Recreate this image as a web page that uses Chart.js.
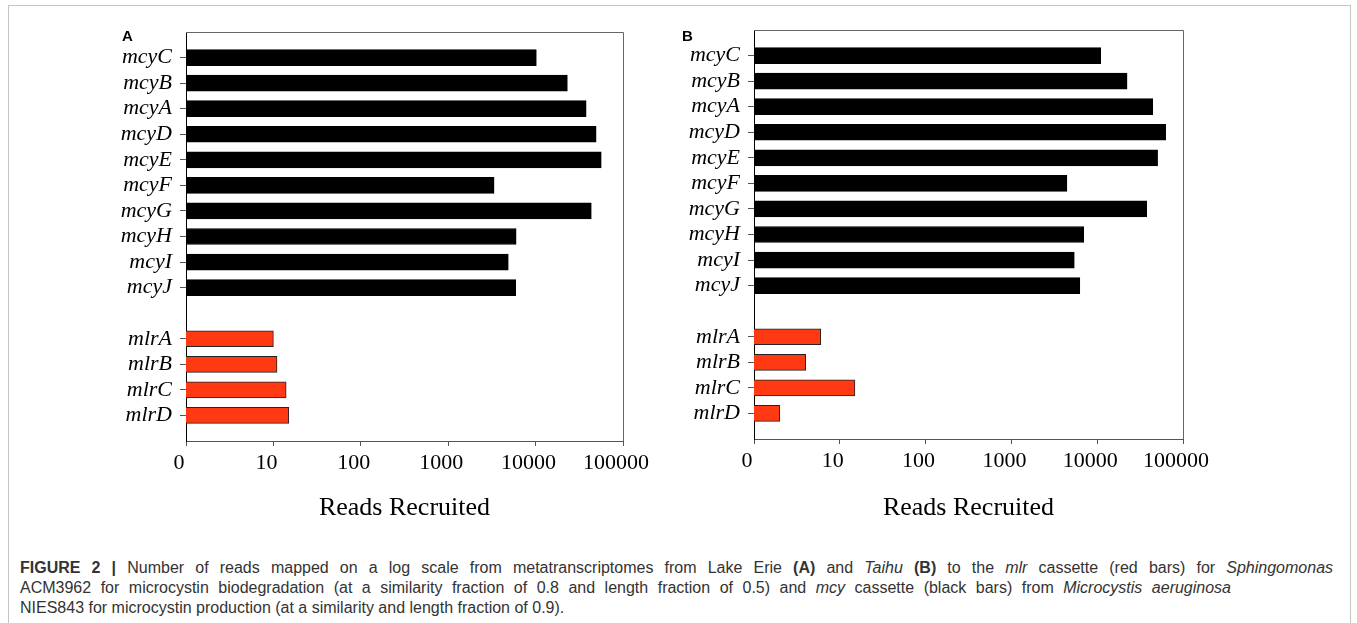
<!DOCTYPE html>
<html>
<head>
<meta charset="utf-8">
<script src="https://cdn.jsdelivr.net/npm/chart.js@4.4.0/dist/chart.umd.min.js"></script>
<style>
  body { margin: 0; background: #fff; width: 1357px; height: 623px; position: relative; overflow: hidden; }
  #frame { position: absolute; left: 8px; top: 5px; width: 1341px; height: 640px; border: 1px solid #c4c4c4; border-bottom: none; }
  .panel { position: absolute; top: 0; height: 540px; }
  .tag { position: absolute; font: bold 15px "Liberation Sans", Arial, sans-serif; line-height: 16px; }
  #caption { position: absolute; left: 20px; top: 558px; font: 16px/20px "Liberation Sans", Arial, sans-serif; color: #333; white-space: nowrap; }
  #caption .ln { text-align: justify; text-align-last: justify; }
</style>
</head>
<body>
<div id="frame"></div>
<div class="panel" style="left:0;width:660px"><canvas id="chartA"></canvas></div>
<div class="panel" style="left:660px;width:560px"><canvas id="chartB"></canvas></div>
<div class="tag" style="left:122px;top:28px">A</div>
<div class="tag" style="left:682px;top:28px">B</div>
<div id="caption">
<div class="ln" style="width:1313px"><b>FIGURE 2 |</b> Number of reads mapped on a log scale from metatranscriptomes from Lake Erie <b>(A)</b> and <i>Taihu</i> <b>(B)</b> to the <i>mlr</i> cassette (red bars) for <i>Sphingomonas</i></div>
<div class="ln" style="width:1211px">ACM3962 for microcystin biodegradation (at a similarity fraction of 0.8 and length fraction of 0.5) and <i>mcy</i> cassette (black bars) from <i>Microcystis aeruginosa</i></div>
<div>NIES843 for microcystin production (at a similarity and length fraction of 0.9).</div>
</div>
<script>
const genes = ['mcyC', 'mcyB', 'mcyA', 'mcyD', 'mcyE', 'mcyF', 'mcyG', 'mcyH', 'mcyI', 'mcyJ', 'mlrA', 'mlrB', 'mlrC', 'mlrD'];
const erieReads = [10200, 23100, 37900, 49300, 56400, 3350, 43400, 5990, 4870, 5930, 10, 11, 14, 15];
const taihuReads = [11000, 22300, 44400, 62800, 50600, 4440, 37800, 6970, 5410, 6280, 6, 4, 15, 2];
const tickValues = [1, 10, 100, 1000, 10000, 100000];
const tickLabels = ['0', '10', '100', '1000', '10000', '100000'];

// empty rows: top padding, gap between the two cassettes, bottom padding
const rows = ['', ...genes.slice(0, 10), '', ...genes.slice(10), ''];

// top and right edge of the plot box
const plotFrame = {
  id: 'plotFrame',
  afterDraw(chart) {
    const { ctx, chartArea: a } = chart;
    ctx.save();
    ctx.strokeStyle = '#666';
    ctx.lineWidth = 1;
    ctx.beginPath();
    ctx.moveTo(a.left, a.top + 0.5);
    ctx.lineTo(a.right + 0.5, a.top + 0.5);
    ctx.lineTo(a.right + 0.5, a.bottom);
    ctx.stroke();
    ctx.restore();
  }
};

function makeChart(id, reads, yWidth, xHeight, padTop, padRight) {
  const values = rows.map(r => r === '' ? null : reads[genes.indexOf(r)]);
  const colors = rows.map(r => r.startsWith('mlr') ? '#ff3a12' : '#000');

  return new Chart(document.getElementById(id), {
    type: 'bar',
    data: {
      labels: rows,
      datasets: [{
        data: values,
        backgroundColor: colors,
        borderColor: rows.map(r => r.startsWith('mlr') ? '#222' : '#000'),
        borderWidth: 1,
        barThickness: 16
      }]
    },
    options: {
      indexAxis: 'y',
      responsive: true,
      maintainAspectRatio: false,
      animation: false,
      layout: { padding: { top: padTop, right: padRight, left: 0, bottom: 0 } },
      plugins: { legend: { display: false }, tooltip: { enabled: false } },
      scales: {
        x: {
          type: 'logarithmic',
          min: 1,
          max: 100000,
          afterBuildTicks: s => { s.ticks = tickValues.map(v => ({ value: v })); },
          afterFit: s => { s.height = xHeight; },
          ticks: {
            callback: (v, i) => tickLabels[i],
            font: { family: 'Liberation Serif', size: 22 },
            color: '#000',
            padding: 4,
            maxRotation: 0,
            autoSkip: false,
            labelOffset: -7
          },
          grid: { drawOnChartArea: false, tickLength: 5, tickColor: '#555' },
          border: { color: '#555' },
          title: {
            display: true,
            text: 'Reads Recruited',
            font: { family: 'Liberation Serif', size: 26 },
            color: '#000',
            padding: { top: 0, bottom: 16 }
          }
        },
        y: {
          offset: false,
          afterFit: s => { s.width = yWidth; },
          ticks: {
            font: { family: 'Liberation Serif', style: 'italic', size: 22 },
            color: '#000',
            padding: 8,
            autoSkip: false
          },
          grid: {
            offset: false,
            drawOnChartArea: false,
            tickLength: 6,
            tickColor: c => rows[c.index] ? '#555' : 'rgba(0,0,0,0)'
          },
          border: { color: '#000' }
        }
      }
    },
    plugins: [plotFrame]
  });
}

makeChart('chartA', erieReads, 186, 99, 32, 36);
makeChart('chartB', taihuReads, 94, 101, 30, 28);
</script>
</body>
</html>
